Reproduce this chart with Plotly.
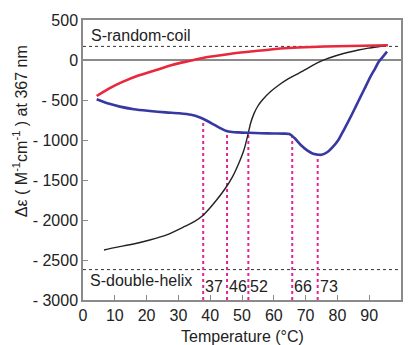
import numpy as np
import plotly.graph_objects as go

# ---- data ----
red_t = [4.3, 8, 12.6, 17, 23, 28, 33.4, 38, 43.8, 49, 54.3, 59, 64.7, 72, 80, 88, 95.9]
red_v = [-450, -360, -271, -200, -125, -62, -12, 28, 62, 90, 112, 132, 150, 163, 172, 179, 185]

blue_t = [4.3, 8, 11.6, 16, 21, 26, 30.3, 34, 36.6, 38.5, 41.5, 43.5, 45.1, 47, 48.8, 52, 56, 60,
          63, 64.9, 66.5, 68.5, 70.5, 72, 73.4, 75, 76.9, 78.5, 80.3, 82.2, 84.2, 85.8, 87.3, 88.9,
          90.4, 91.8, 93, 94.4, 95.6]
blue_v = [-491, -545, -583, -615, -637, -655, -666, -685, -715, -750, -815, -858, -888, -900, -905,
          -910, -915, -918, -920, -925, -975, -1062, -1130, -1165, -1180, -1185, -1150, -1090, -1000,
          -860, -708, -580, -458, -330, -208, -110, -21, 45, 104]

black_t = [6.6, 10, 15.9, 21, 26.3, 32, 35, 37.8, 39.7, 42, 44.4, 47, 49, 50.6, 51.7, 52.7, 53.8,
           55, 56.4, 59, 61.6, 64.5, 67.8, 71, 74, 77, 80.3, 83.5, 86.6, 89.7, 92.8, 95.6]
black_v = [-2375, -2345, -2300, -2250, -2187, -2080, -2020, -1940, -1860, -1750, -1625, -1460,
           -1290, -1125, -960, -790, -667, -575, -500, -395, -312, -235, -167, -95, -30, 20, 62,
           97, 125, 148, 166, 188]

random_coil_level = 170
double_helix_level = -2620

transition_pos = [37.8, 45.3, 52, 65.8, 73.8]
transition_labels = ["37", "46", "52", "66", "73"]

x_ticks = list(range(0, 101, 10))
y_ticks = [500, 0, -500, -1000, -1500, -2000, -2500, -3000]
y_ticktext = ["500", "0", "- 500", "- 1000", "- 1500", "- 2000", "- 2500", "- 3000"]

FONT = "Liberation Sans, Arial, sans-serif"
MAGENTA = "#e0249a"
GRAY = "#8a8a8a"
TXT = "#222"

fig = go.Figure()

# reference dotted levels
for lvl in (random_coil_level, double_helix_level):
    fig.add_trace(go.Scatter(x=[0, 100], y=[lvl, lvl], mode="lines",
                             line=dict(color="#333", width=1, dash="dot"),
                             hoverinfo="skip", showlegend=False))

# magenta vertical lines from bottom up to blue curve
for xp in transition_pos:
    top = float(np.interp(xp, blue_t, blue_v))
    fig.add_trace(go.Scatter(x=[xp, xp], y=[-3000, top], mode="lines",
                             line=dict(color=MAGENTA, width=2, dash="dot"),
                             hoverinfo="skip", showlegend=False))

fig.add_trace(go.Scatter(x=black_t, y=black_v, mode="lines",
                         line=dict(color="#222", width=1.4, shape="spline", smoothing=0.6),
                         showlegend=False))
fig.add_trace(go.Scatter(x=red_t, y=red_v, mode="lines",
                         line=dict(color="#e8283c", width=2.6, shape="spline", smoothing=0.8),
                         showlegend=False))
fig.add_trace(go.Scatter(x=blue_t, y=blue_v, mode="lines",
                         line=dict(color="#3838a2", width=2.6, shape="spline", smoothing=0.8),
                         showlegend=False))

annotations = [
    dict(x=2, y=305, xref="x", yref="y", text="S-random-coil", showarrow=False,
         xanchor="left", yanchor="middle", font=dict(size=16, color=TXT, family=FONT)),
    dict(x=1.5, y=-2750, xref="x", yref="y", text="S-double-helix", showarrow=False,
         xanchor="left", yanchor="middle", font=dict(size=16, color=TXT, family=FONT)),
    dict(x=0.5, y=-0.129, xref="paper", yref="paper", text="Temperature (\u00b0C)", showarrow=False,
         xanchor="center", yanchor="middle", font=dict(size=16, color=TXT, family=FONT)),
    dict(x=-0.197, y=0.604, xref="paper", yref="paper",
         text="\u0394\u03b5 ( M<sup>-1</sup>cm<sup>-1</sup> ) at 367 nm", showarrow=False,
         textangle=-90, xanchor="center", yanchor="middle", borderpad=0,
         font=dict(size=16, color=TXT, family=FONT)),
]
for xp, lab in zip(transition_pos, transition_labels):
    annotations.append(dict(x=xp, y=-2835, xref="x", yref="y", text=lab, showarrow=False,
                            xanchor="left", yanchor="middle",
                            font=dict(size=16, color=TXT, family=FONT)))

fig.update_layout(
    width=413, height=345,
    margin=dict(l=83, r=10, t=20, b=45),
    paper_bgcolor="white", plot_bgcolor="white",
    font=dict(family=FONT, size=16, color=TXT),
    annotations=annotations,
    showlegend=False,
)
fig.update_xaxes(range=[0, 100], tickvals=x_ticks, ticks="inside", ticklen=5, tickwidth=1.2,
                 tickcolor=GRAY, showgrid=False, zeroline=False, showline=True, mirror=True,
                 linecolor=GRAY, linewidth=1.5, tickfont=dict(size=16, family=FONT, color=TXT))
fig.update_yaxes(range=[-3000, 500], tickvals=y_ticks, ticktext=y_ticktext, ticks="inside",
                 ticklen=5, tickwidth=1.2, tickcolor=GRAY, showgrid=False, zeroline=True,
                 zerolinecolor=GRAY, zerolinewidth=1.5, showline=True, mirror=True,
                 linecolor=GRAY, linewidth=1.5, tickfont=dict(size=16, family=FONT, color=TXT))

fig.write_html("out.html")
